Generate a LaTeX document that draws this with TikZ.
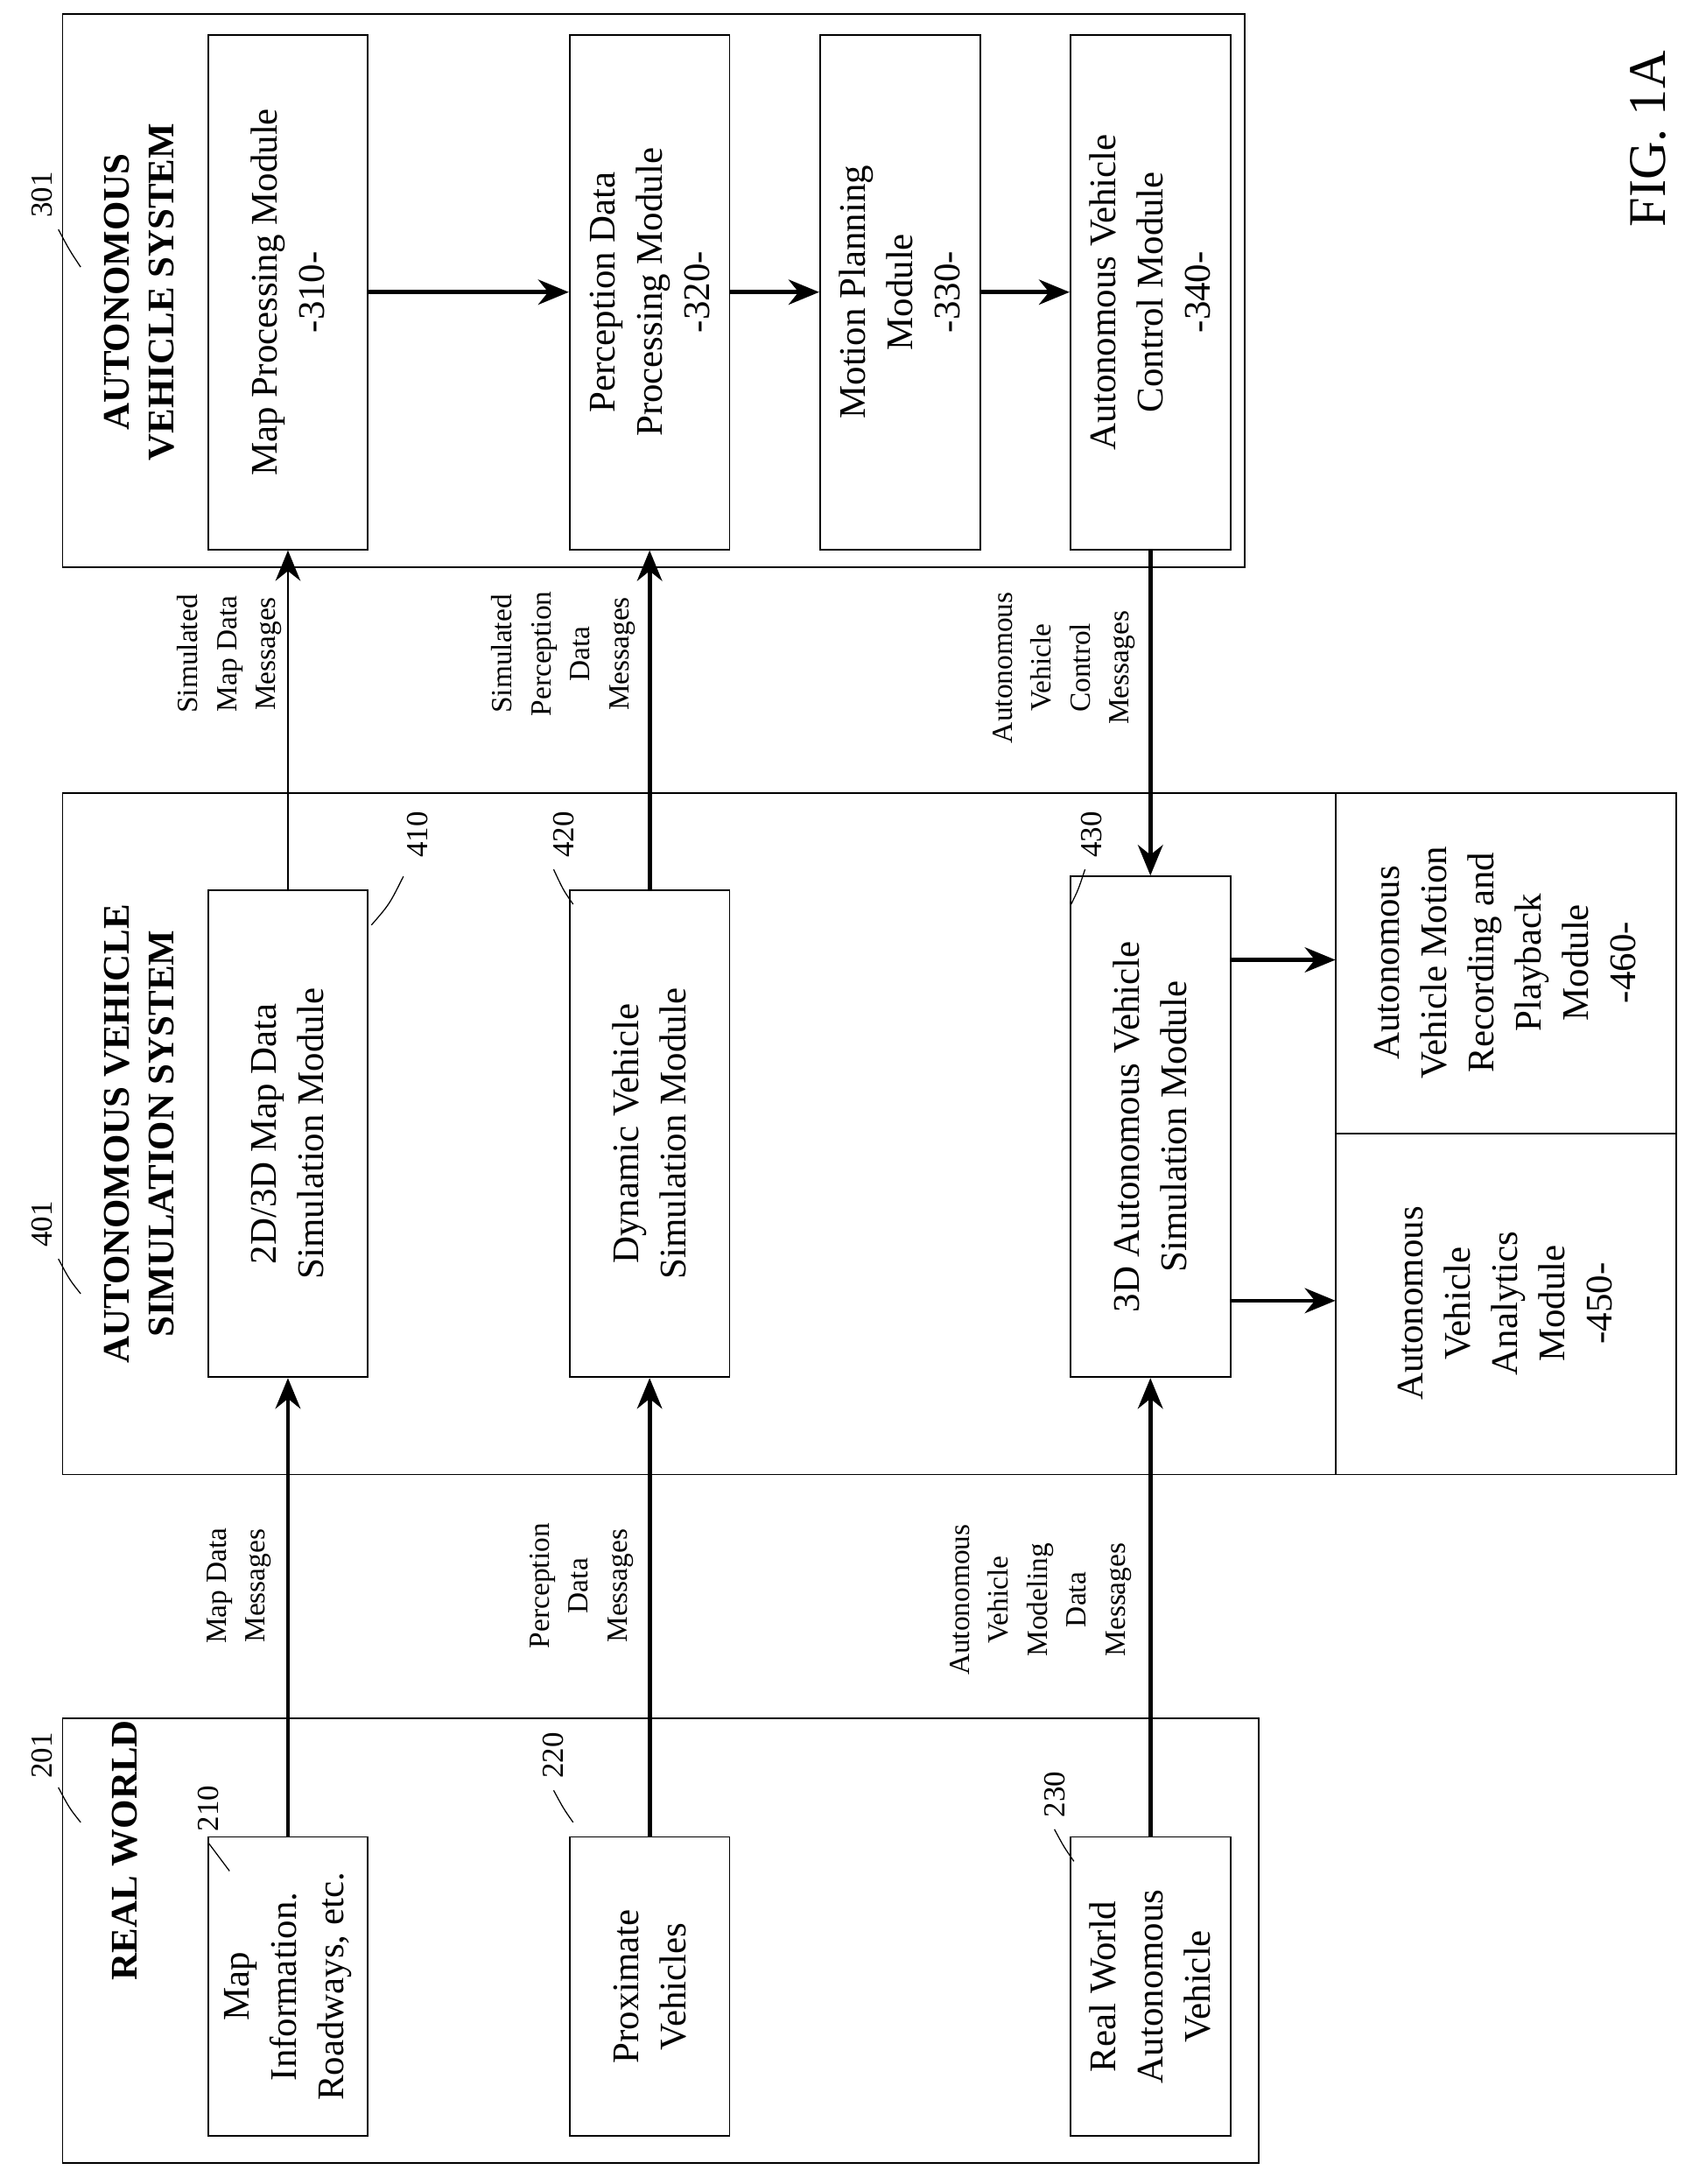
\documentclass[tikz,border=0pt]{standalone}
\usepackage{fontspec}
\setmainfont{Liberation Serif}
\usetikzlibrary{arrows.meta}
\begin{document}
\begin{tikzpicture}[x=1pt,y=-1pt,
 box/.style={draw,line width=1.2pt},
 txt/.style={rotate=90,align=center,font=\fontsize{27}{34}\selectfont},
 lab/.style={rotate=90,align=center,font=\fontsize{21}{28}\selectfont},
 ttl/.style={rotate=90,align=center,font=\fontsize{27}{32}\selectfont\bfseries},
 num/.style={rotate=90,font=\fontsize{22}{26}\selectfont},
 arr/.style={line width=3pt,-{Stealth[length=22pt,width=18pt]}},
 lead/.style={line width=0.8pt}]
\useasboundingbox (0,0) rectangle (1221,1570);
% outer boxes
\draw[box] (45,10) rectangle (895,408);
\draw[box] (45,570) rectangle (1205,1060);
\draw[box] (45,1235) rectangle (905,1555);
\draw[box] (960,570) rectangle (1205,815);
\draw[box] (960,815) rectangle (1205,1060);
\node[ttl] (t3) at (100,210) {AUTONOMOUS\\VEHICLE SYSTEM};
\node[ttl] (t4) at (100,815) {AUTONOMOUS VEHICLE\\SIMULATION SYSTEM};
\node[ttl] (t2) at (90,1330) {REAL WORLD};
% modules
\node[box,txt,minimum width=370pt,minimum height=115pt] (m310) at (207,210) {Map Processing Module\\-310-};
\node[box,txt,minimum width=370pt,minimum height=115pt] (m320) at (467,210) {Perception Data\\Processing Module\\-320-};
\node[box,txt,minimum width=370pt,minimum height=115pt] (m330) at (647,210) {Motion Planning\\Module\\-330-};
\node[box,txt,minimum width=370pt,minimum height=115pt] (m340) at (827,210) {Autonomous Vehicle\\Control Module\\-340-};
\node[box,txt,minimum width=350pt,minimum height=115pt] (m410) at (207,815) {2D/3D Map Data\\Simulation Module};
\node[box,txt,minimum width=350pt,minimum height=115pt] (m420) at (467,815) {Dynamic Vehicle\\Simulation Module};
\node[box,txt,minimum width=360pt,minimum height=115pt] (m430) at (827,810) {3D Autonomous Vehicle\\Simulation Module};
\node[txt] (m450) at (1082,937) {Autonomous\\Vehicle\\Analytics\\Module\\-450-};
\node[txt] (m460) at (1082,692) {Autonomous\\Vehicle Motion\\Recording and\\Playback\\Module\\-460-};
\node[box,txt,minimum width=215pt,minimum height=115pt] (m210) at (207,1428) {Map\\Information.\\Roadways, etc.};
\node[box,txt,minimum width=215pt,minimum height=115pt] (m220) at (467,1428) {Proximate\\Vehicles};
\node[box,txt,minimum width=215pt,minimum height=115pt] (m230) at (827,1428) {Real World\\Autonomous\\Vehicle};
% arrows
\draw[arr] (m210) -- (m410);
\draw[arr] (m220) -- (m420);
\draw[arr] (m230) -- (m430);
\draw[arr,line width=1.4pt] (m410) -- (m310);
\draw[arr] (m420) -- (m320);
\draw[arr] (m340) -- (m430);
\draw[arr] (m310) -- (m320);
\draw[arr] (m320) -- (m330);
\draw[arr] (m330) -- (m340);
\draw[arr] (m430.south |- 0,935) -- (960,935);
\draw[arr] (m430.south |- 0,690) -- (960,690);
% labels
\node[lab] (l1) at (165,470) {Simulated\\Map Data\\Messages};
\node[lab] (l2) at (405,470) {Simulated\\Perception\\Data\\Messages};
\node[lab] (l3) at (765,480) {Autonomous\\Vehicle\\Control\\Messages};
\node[lab] (l4) at (172,1140) {Map Data\\Messages};
\node[lab] (l5) at (418,1140) {Perception\\Data\\Messages};
\node[lab] (l6) at (748,1150) {Autonomous\\Vehicle\\Modeling\\Data\\Messages};
% reference numerals
\node[num] (n301) at (30,140) {301};
\draw[lead] (42,165) .. controls (50,180) .. (58,192);
\node[num] (n401) at (30,880) {401};
\draw[lead] (42,905) .. controls (50,920) .. (58,930);
\node[num] (n201) at (30,1262) {201};
\draw[lead] (42,1285) .. controls (50,1300) .. (58,1310);
\node[num] (n210) at (150,1300) {210};
\draw[lead] (150,1325) .. controls (158,1335) .. (165,1345);
\node[num] (n220) at (398,1262) {220};
\draw[lead] (398,1287) .. controls (405,1300) .. (412,1310);
\node[num] (n230) at (758,1290) {230};
\draw[lead] (758,1315) .. controls (765,1328) .. (772,1338);
\node[num] (n410) at (300,600) {410};
\draw[lead] (290,630) .. controls (280,650) .. (267,665);
\node[num] (n420) at (405,600) {420};
\draw[lead] (398,625) .. controls (405,640) .. (412,650);
\node[num] (n430) at (785,600) {430};
\draw[lead] (780,625) .. controls (775,640) .. (770,650);
\node[rotate=90,font=\fontsize{38}{40}\selectfont] (fig) at (1185,100) {FIG. 1A};
\end{tikzpicture}
\end{document}
